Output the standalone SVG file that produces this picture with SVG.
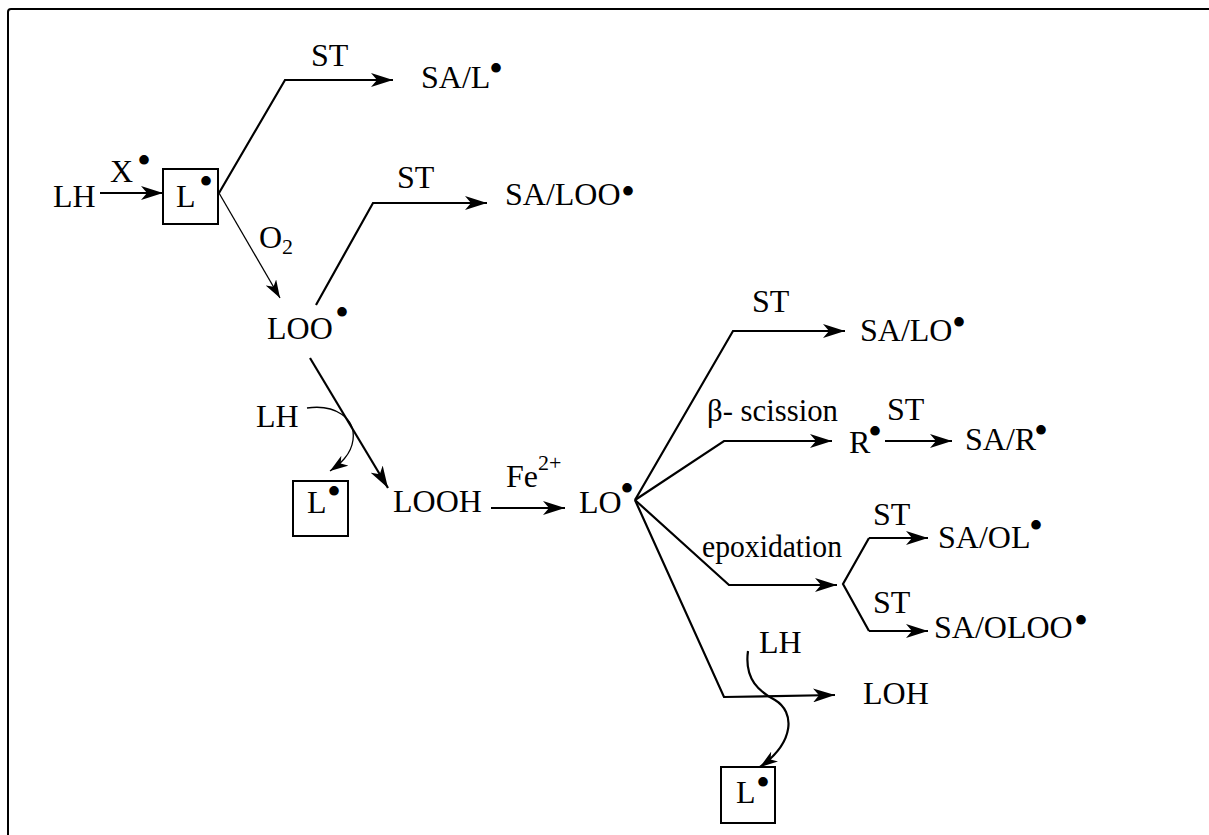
<svg xmlns="http://www.w3.org/2000/svg" width="1209" height="835" viewBox="0 0 1209 835">
  <style>
    text { font-family: "Liberation Serif", "Times New Roman", serif; font-size: 32px; fill: #000; }
    .dot { font-size: 40px; text-anchor: middle; }
    .sub { font-size: 22px; }
    .thick { fill: none; stroke: #000; stroke-width: 2.2; }
    .thin { fill: none; stroke: #000; stroke-width: 1.3; }
    .box { fill: none; stroke: #000; stroke-width: 2; }
  </style>
  <defs>
    <marker id="head" markerUnits="userSpaceOnUse" viewBox="0 0 22 14" refX="22" refY="7" markerWidth="22" markerHeight="14" orient="auto">
      <path d="M0,0 L22,7 L0,14 L6,7 z" fill="#000"/>
    </marker>
    <marker id="headSmall" markerUnits="userSpaceOnUse" viewBox="0 0 18 12" refX="18" refY="6" markerWidth="18" markerHeight="12" orient="auto">
      <path d="M0,0 L18,6 L0,12 L5,6 z" fill="#000"/>
    </marker>
  </defs>

  <rect width="1209" height="835" fill="#fff"/>
  <!-- frame -->
  <rect x="8" y="9" width="1240" height="860" rx="3" fill="none" stroke="#000" stroke-width="2"/>

  <!-- connectors -->
  <g id="connectors">
    <line class="thick" x1="100" y1="193" x2="163" y2="193" marker-end="url(#head)"/>
    <polyline class="thick" points="219,193 285,80 393,80" marker-end="url(#head)"/>
    <line class="thin" x1="219" y1="193" x2="280" y2="298" marker-end="url(#headSmall)"/>
    <polyline class="thick" points="316,305 373,203 487,203" marker-end="url(#head)"/>
    <line class="thick" x1="310" y1="358" x2="388" y2="488" marker-end="url(#head)"/>
    <path class="thin" d="M307,408 C335,404 356,418 353,440 C351,455 340,464 330,471" marker-end="url(#headSmall)"/>
    <line class="thick" x1="491" y1="508" x2="565" y2="508" marker-end="url(#head)"/>
    <polyline class="thick" points="635,500 733,331 845,331" marker-end="url(#head)"/>
    <polyline class="thick" points="635,500 724,441 832,441" marker-end="url(#head)"/>
    <line class="thick" x1="885" y1="441" x2="952" y2="441" marker-end="url(#head)"/>
    <polyline class="thick" points="635,500 729,585 837,585" marker-end="url(#head)"/>
    <polyline class="thick" points="869,538 843,584 869,631"/>
    <line class="thick" x1="869" y1="538" x2="928" y2="538" marker-end="url(#head)"/>
    <line class="thick" x1="869" y1="631" x2="928" y2="631" marker-end="url(#head)"/>
    <polyline class="thick" points="635,500 724,697 835,695" marker-end="url(#head)"/>
    <path class="thick" d="M748,651 C744,680 760,692 775,700 C795,712 795,742 760,767" marker-end="url(#headSmall)"/>
  </g>

  <!-- reagent / condition labels -->
  <g id="labels">
    <text x="110" y="182">X</text><text class="dot" x="144" y="174">•</text>
    <text x="311" y="66">ST</text>
    <text x="259" y="248">O<tspan class="sub" dy="6">2</tspan></text>
    <text x="397" y="188">ST</text>
    <text x="506" y="487">Fe<tspan class="sub" dy="-17">2+</tspan></text>
    <text x="752" y="312">ST</text>
    <text x="707" y="421" textLength="131" lengthAdjust="spacingAndGlyphs">β- scission</text>
    <text x="887" y="420">ST</text>
    <text x="702" y="557" textLength="140" lengthAdjust="spacingAndGlyphs">epoxidation</text>
    <text x="873" y="525">ST</text>
    <text x="873" y="613">ST</text>
  </g>

  <!-- species -->
  <g id="LH-start"><text x="53" y="207">LH</text></g>
  <g id="L-box-1">
    <rect class="box" x="163" y="169" width="55" height="55"/>
    <text x="176" y="207">L</text><text class="dot" x="206" y="195">•</text>
  </g>
  <g id="SA-L"><text x="421" y="88">SA/L</text><text class="dot" x="496" y="82">•</text></g>
  <g id="SA-LOO"><text x="505" y="205">SA/LOO</text><text class="dot" x="628" y="205">•</text></g>
  <g id="LOO"><text x="267" y="339">LOO</text><text class="dot" x="342" y="326">•</text></g>
  <g id="LH-mid"><text x="256" y="427">LH</text></g>
  <g id="L-box-2">
    <rect class="box" x="293" y="481" width="55" height="55"/>
    <text x="307" y="513">L</text><text class="dot" x="334" y="505">•</text>
  </g>
  <g id="LOOH"><text x="393" y="512">LOOH</text></g>
  <g id="LO"><text x="579" y="513">LO</text><text class="dot" x="627" y="502">•</text></g>
  <g id="SA-LO"><text x="860" y="341">SA/LO</text><text class="dot" x="959" y="336">•</text></g>
  <g id="R"><text x="849" y="453">R</text><text class="dot" x="875" y="445">•</text></g>
  <g id="SA-R"><text x="965" y="450">SA/R</text><text class="dot" x="1041" y="444">•</text></g>
  <g id="SA-OL"><text x="938" y="548">SA/OL</text><text class="dot" x="1036" y="539">•</text></g>
  <g id="SA-OLOO"><text x="934" y="638">SA/OLOO</text><text class="dot" x="1081" y="634">•</text></g>
  <g id="LH-low"><text x="759" y="653">LH</text></g>
  <g id="LOH"><text x="863" y="704">LOH</text></g>
  <g id="L-box-3">
    <rect class="box" x="721" y="767" width="54" height="56"/>
    <text x="736" y="803">L</text><text class="dot" x="763" y="796">•</text>
  </g>
</svg>
